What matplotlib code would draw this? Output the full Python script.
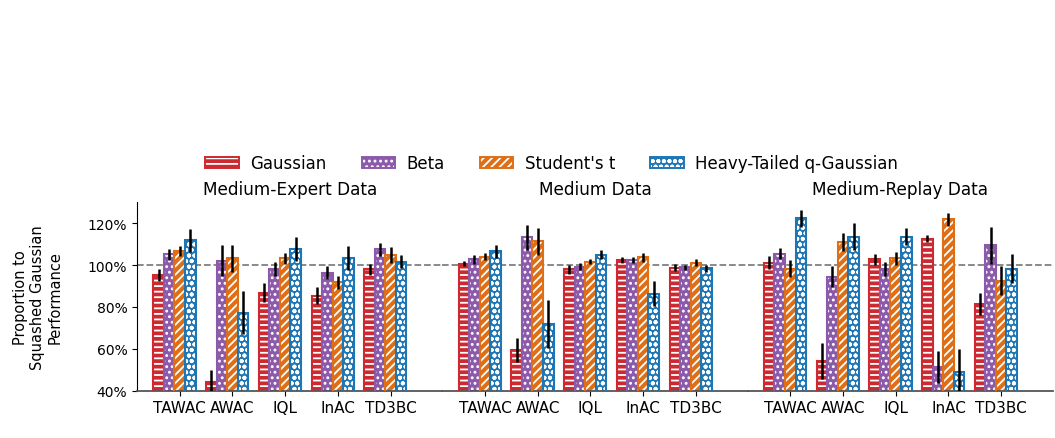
import matplotlib
matplotlib.use("Agg")
import matplotlib.pyplot as plt
import numpy as np
from matplotlib.legend_handler import HandlerBase
from matplotlib.patches import Rectangle, Patch

algorithms = ["TAWAC", "AWAC", "IQL", "InAC", "TD3BC"]
datasets = ["Medium-Expert Data", "Medium Data", "Medium-Replay Data"]
policies = ["Gaussian", "Beta", "Student's t", "Heavy-Tailed q-Gaussian"]

me_gauss = [0.952, 0.443, 0.869, 0.854, 0.979]
me_beta = [1.051, 1.021, 0.980, 0.963, 1.075]
me_t = [1.067, 1.032, 1.032, 0.917, 1.048]
me_qg = [1.119, 0.773, 1.078, 1.032, 1.017]
me_gauss_err = [0.030, 0.058, 0.046, 0.042, 0.026]
me_beta_err = [0.026, 0.073, 0.033, 0.031, 0.030]
me_t_err = [0.024, 0.064, 0.027, 0.032, 0.036]
me_qg_err = [0.055, 0.104, 0.058, 0.057, 0.029]

m_gauss = [1.006, 0.595, 0.980, 1.024, 0.987]
m_beta = [1.027, 1.132, 0.993, 1.024, 0.990]
m_t = [1.040, 1.113, 1.017, 1.037, 1.012]
m_qg = [1.065, 0.718, 1.049, 0.864, 0.985]
m_gauss_err = [0.012, 0.059, 0.022, 0.014, 0.016]
m_beta_err = [0.020, 0.060, 0.016, 0.014, 0.012]
m_t_err = [0.016, 0.064, 0.014, 0.021, 0.015]
m_qg_err = [0.029, 0.115, 0.021, 0.058, 0.016]

mr_gauss = [1.012, 0.542, 1.027, 1.126, 0.814]
mr_beta = [1.055, 0.945, 0.982, 0.515, 1.094]
mr_t = [0.983, 1.110, 1.032, 1.219, 0.926]
mr_qg = [1.223, 1.136, 1.136, 0.488, 0.983]
mr_gauss_err = [0.030, 0.086, 0.026, 0.018, 0.052]
mr_beta_err = [0.028, 0.052, 0.034, 0.076, 0.090]
mr_t_err = [0.042, 0.043, 0.030, 0.030, 0.068]
mr_qg_err = [0.040, 0.066, 0.041, 0.110, 0.070]

values = [[me_gauss, me_beta, me_t, me_qg],
          [m_gauss, m_beta, m_t, m_qg],
          [mr_gauss, mr_beta, mr_t, mr_qg]]
errors = [[me_gauss_err, me_beta_err, me_t_err, me_qg_err],
          [m_gauss_err, m_beta_err, m_t_err, m_qg_err],
          [mr_gauss_err, mr_beta_err, mr_t_err, mr_qg_err]]

colors = ["#cc2a30", "#8c5aaa", "#de6f16", "#1f76b4"]
hatches = ["---", "...", "////", "ooo"]

plt.rcParams['hatch.linewidth'] = 1.3
fig = plt.figure(figsize=(10.55, 4.39), dpi=100)
left, right, bottom, top = 0.1299, 0.998, 0.1077, 0.537
w_ax = (right - left) / 3
x = np.arange(len(algorithms))
width = 0.2
for d in range(3):
    ax = fig.add_axes([left + d * w_ax, bottom, w_ax, top - bottom])
    ax.axhline(1.0, color="gray", ls="--", lw=1.3, zorder=0)
    for p in range(4):
        pos = x + (p - 2) * width
        ax.bar(pos, values[d][p], width, color=colors[p], edgecolor="white",
               hatch=hatches[p], linewidth=0, zorder=2)
        ax.bar(pos, values[d][p], width, facecolor="none", edgecolor=colors[p],
               linewidth=1.5, zorder=3)
        ax.errorbar(pos, values[d][p], yerr=errors[d][p], fmt="none", ecolor="black",
                    elinewidth=1.8, capsize=0, zorder=4)
    ax.set_xlim(-0.81, 4.98)
    ax.set_ylim(0.4, 1.3)
    ax.set_xticks(x)
    ax.set_xticklabels(algorithms, fontsize=11)
    ax.set_title(datasets[d], fontsize=12.2, pad=6)
    for s in ["top", "right"]:
        ax.spines[s].set_visible(False)
    ax.spines["bottom"].set_color("#555555")
    ax.spines["bottom"].set_linewidth(1.3)
    if d == 0:
        ax.set_yticks([0.4, 0.6, 0.8, 1.0, 1.2])
        ax.set_yticklabels(["40%", "60%", "80%", "100%", "120%"], fontsize=10)
        ax.set_ylabel("Proportion to\nSquashed Gaussian\nPerformance", fontsize=10.5, labelpad=18)
    else:
        ax.spines["left"].set_visible(False)
        ax.set_yticks([])


class HatchHandler(HandlerBase):
    def __init__(self, color, hatch):
        super().__init__()
        self.color = color
        self.hatch = hatch

    def create_artists(self, legend, orig_handle, xdescent, ydescent, width, height, fontsize, trans):
        r1 = Rectangle((-xdescent, -ydescent), width, height, facecolor=self.color,
                       edgecolor="white", hatch=self.hatch, linewidth=0, transform=trans)
        r2 = Rectangle((-xdescent, -ydescent), width, height, facecolor="none",
                       edgecolor=self.color, linewidth=1.4, transform=trans)
        return [r1, r2]


handles = [Patch(facecolor=colors[p]) for p in range(4)]
hmap = {handles[p]: HatchHandler(colors[p], hatches[p]) for p in range(4)}
fig.legend(handles, policies, loc="center", bbox_to_anchor=(0.523, 0.626), ncol=4,
           frameon=False, fontsize=12, columnspacing=2.1, handletextpad=0.7,
           handler_map=hmap)

fig.savefig("out.png", dpi=100)
